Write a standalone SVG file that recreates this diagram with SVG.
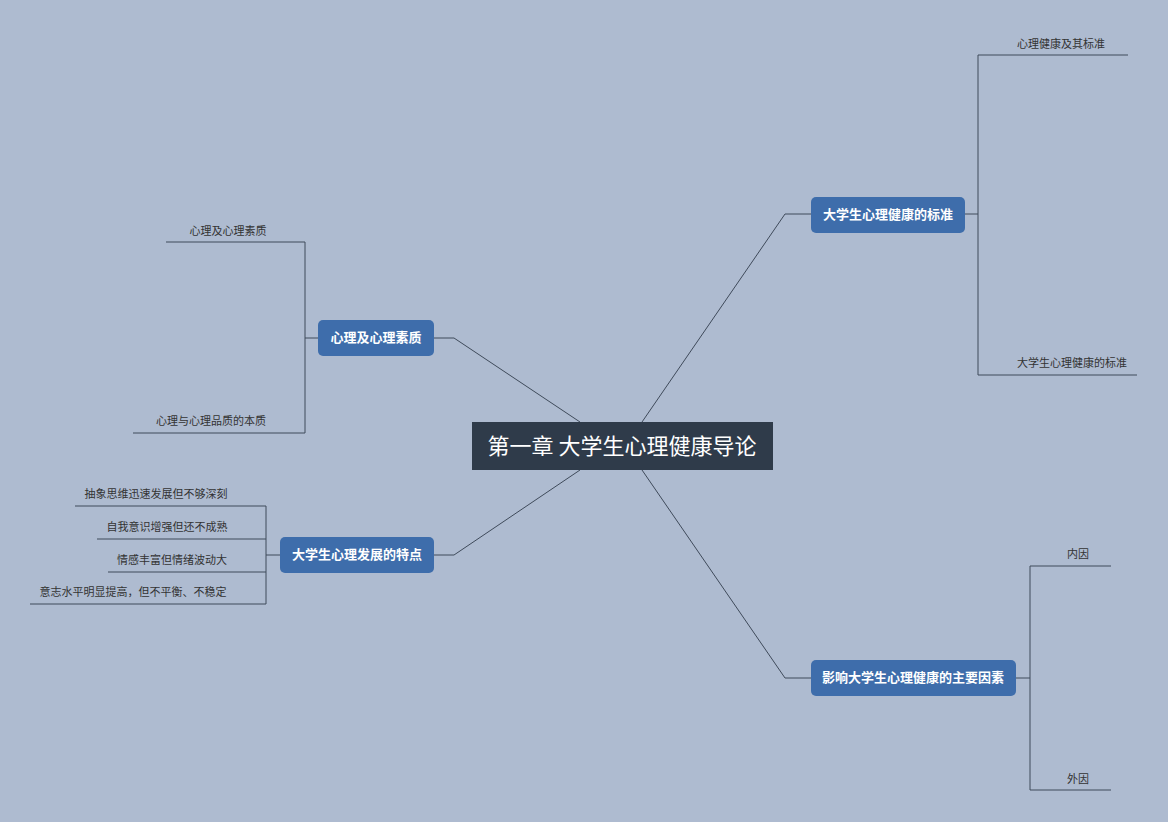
<svg xmlns="http://www.w3.org/2000/svg" width="1168" height="822" viewBox="0 0 1168 822">
<style>
.c{fill:none;stroke:#3f4a5a;stroke-width:1}
.t{font-family:"Noto Sans CJK SC","Noto Sans",sans-serif;font-size:11px;fill:#333;text-anchor:middle}
.b{fill:#3e6dab}
.bt{font-family:"Noto Sans CJK SC","Noto Sans",sans-serif;font-size:13px;font-weight:bold;fill:#fff;text-anchor:middle}
</style>
<rect width="1168" height="822" fill="#aebbd0"/>
<g id="connectors">
<path class="c" d="M642 422 L785 214 H811"/>
<path class="c" d="M580 422 L454 338 H434"/>
<path class="c" d="M580 470 L454 555 H434"/>
<path class="c" d="M642 470 L785 678 H811"/>
<path class="c" d="M965 214 H978 M978 55 V375 M978 55 H1128 M978 375 H1137"/>
<path class="c" d="M318 338 H305 M305 242 V433 M305 242 H166 M305 433 H133"/>
<path class="c" d="M280 555 H266 M266 506 V604 M266 506 H75 M266 539 H97 M266 572 H108 M266 604 H30"/>
<path class="c" d="M1016 678 H1030 M1030 566 V790 M1030 566 H1111 M1030 790 H1111"/>
</g>
<g id="center"><rect x="472" y="422" width="301" height="48" fill="#2f3b4a"/><text x="622" y="454" font-family="Noto Sans CJK SC,sans-serif" font-size="22" fill="#fff" text-anchor="middle">第一章 大学生心理健康导论</text></g>
<g id="n1"><rect class="b" x="811" y="197" width="154" height="36" rx="5"/><text class="bt" x="888" y="219">大学生心理健康的标准</text></g>
<g id="n2"><rect class="b" x="318" y="320" width="116" height="36" rx="5"/><text class="bt" x="376" y="342">心理及心理素质</text></g>
<g id="n3"><rect class="b" x="280" y="537" width="154" height="36" rx="5"/><text class="bt" x="357" y="559">大学生心理发展的特点</text></g>
<g id="n4"><rect class="b" x="811" y="660" width="205" height="36" rx="5"/><text class="bt" x="913" y="682">影响大学生心理健康的主要因素</text></g>
<g id="leaves">
<text class="t" x="1061" y="48">心理健康及其标准</text>
<text class="t" x="1072" y="367">大学生心理健康的标准</text>
<text class="t" x="228" y="235">心理及心理素质</text>
<text class="t" x="211" y="425">心理与心理品质的本质</text>
<text class="t" x="156" y="498">抽象思维迅速发展但不够深刻</text>
<text class="t" x="167" y="531">自我意识增强但还不成熟</text>
<text class="t" x="172" y="564">情感丰富但情绪波动大</text>
<text class="t" x="133" y="596">意志水平明显提高，但不平衡、不稳定</text>
<text class="t" x="1078" y="558">内因</text>
<text class="t" x="1078" y="783">外因</text>
</g>
</svg>
